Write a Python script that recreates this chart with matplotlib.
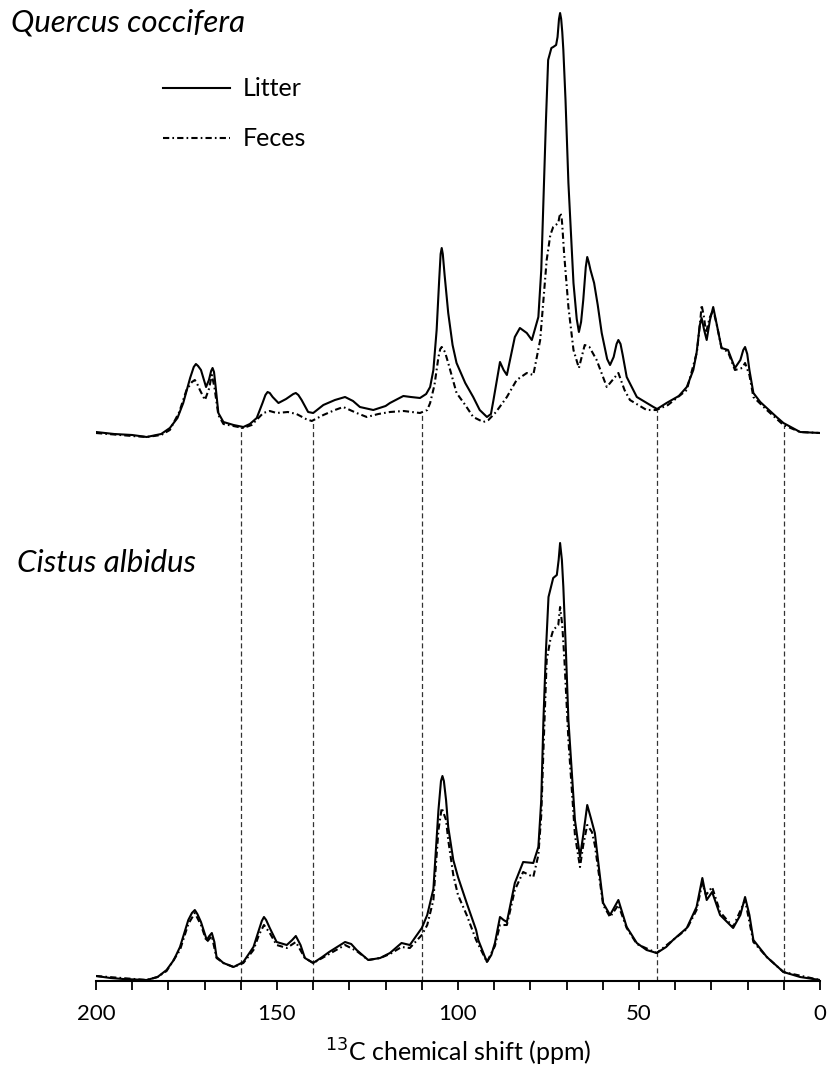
import matplotlib
matplotlib.use("Agg")
import matplotlib.pyplot as plt
from matplotlib.lines import Line2D
from matplotlib.ticker import MultipleLocator
import numpy as np

plt.rcParams['font.family'] = ['Lato', 'DejaVu Sans']

# ---- Quercus coccifera (upper spectrum), intensity above its own baseline ----
qc_litter_ppm = [200, 195, 190, 186, 182, 179.6, 177.5, 175.9, 174, 173, 172.4, 171.8, 171, 169.6, 168.8, 168.2,
                 167.8, 167.4, 167, 166.2, 164.8, 162, 159.3, 157.5, 155.6, 154, 153.2, 152.6, 152, 151.2, 149.6,
                 147.5, 145.5, 144.8, 144.1, 143.2, 141.4, 140, 137.2, 134, 131.2, 129, 127.1, 123.4, 120,
                 118.8, 115.1, 113, 110.5, 108.8, 107.7, 106.8, 105.9, 105.2, 104.8, 104.5, 104.2, 103.7,
                 102.7, 101.5, 100.4, 98, 95.8, 94, 92, 90.9, 90.2, 89, 88.4, 87.4, 86.5, 84.3, 82.9, 81, 79.6,
                 77.8, 77, 76.4, 75.7, 75.1, 74.2, 73.7, 72.9, 72.5, 72.1, 71.8, 71.5, 71.2, 70.9, 70.3, 69.5,
                 68.1, 67.2, 66.6, 66, 65.4, 64.7, 64.3, 63.9, 63.4, 62.4, 61.4, 60.3, 58.8, 58, 57, 56.2, 55.7,
                 55.1, 54.5, 53.4, 50.6, 46, 45, 42.4, 39, 36.8, 35, 34.1, 33.2, 32.7, 32, 31.3, 30.4, 29.5,
                 28.5, 27.2, 25.4, 23.5, 22, 21.2, 20.7, 20.1, 19.5, 18.4, 16.5, 14.7, 12, 10.1, 7, 5.5, 0]
qc_litter = [5, 3, 2, 0, 3, 9, 19, 34, 59, 70, 73, 71, 67, 50, 57, 66,
             69, 65, 52, 24, 15, 12, 10, 13, 19, 34, 42, 45, 44, 40, 34,
             38, 43, 44, 42, 37, 25, 24, 32, 37, 40, 36, 30, 27, 31,
             34, 41, 40, 39, 43, 50, 67, 107, 157, 183, 189, 183, 162,
             124, 92, 74, 54, 40, 27, 20, 23, 37, 62, 75, 67, 62, 100, 109, 104, 97,
             120, 167, 237, 317, 377, 389, 390, 392, 400, 418, 424, 418, 405, 387, 337, 254,
             154, 118, 105, 115, 137, 170, 180, 175, 167, 154, 132, 104, 78, 72, 80, 93, 97,
             93, 82, 60, 40, 30, 28, 34, 41, 50, 67, 84, 112, 119, 107, 97, 117, 130,
             112, 89, 87, 69, 77, 87, 90, 83, 67, 44, 35, 29, 20, 14, 8, 5, 4]

qc_feces_ppm = [200, 190, 186, 182, 179.6, 177, 175, 173.5, 172.7, 171.9, 171.3, 169.9, 168.8, 168, 167.3, 166.2,
                164.8, 159.3, 157, 153.8, 152, 150.1, 147, 144.6, 142, 140.4, 137.2, 134, 131.7, 128, 125.2,
                122, 118.8, 115, 110.5, 108.5, 107.7, 106.5, 105.4, 104.9, 104.5, 104.1, 103.6, 102.7, 100.4,
                98, 95.8, 93, 91.6, 89.5, 86.5, 83.8, 81, 79.2, 77.3, 76.4, 75.5, 74.5, 73.7, 72.3, 72, 71.7,
                71.4, 71.2, 70.7, 69.5, 68.1, 66.6, 65, 63.7, 61.7, 58.9, 55.7, 54, 52.5, 47.9, 45.2, 42, 36.8,
                34, 33, 32.7, 32, 31.5, 30.5, 29.5, 28.5, 27.2, 25.4, 23.5, 21.5, 20.7, 19.5, 18.4, 14.7, 10.1,
                5.5, 0]
qc_feces = [4, 1, 0, 2, 7, 25, 47, 55, 57, 52, 47, 37, 48, 62, 50, 22,
            13, 9, 12, 24, 26, 24, 25, 23, 18, 16, 22, 27, 30, 24, 20,
            23, 25, 26, 24, 27, 34, 52, 80, 88, 90, 88, 85, 74, 44,
            32, 20, 15, 17, 25, 40, 57, 64, 62, 97, 137, 177, 202, 210, 214, 220, 224,
            220, 212, 184, 130, 87, 69, 92, 90, 77, 50, 64, 47, 37, 27, 27, 32, 47,
            85, 119, 132, 119, 104, 119, 127, 112, 89, 85, 67, 69, 74, 62, 40, 27, 12,
            5, 4]

# ---- Cistus albidus (lower spectrum) ----
ca_litter_ppm = [200, 196, 192.5, 186, 183, 180.5, 178.5, 176.8, 174.5, 173.5, 172.7, 172, 171, 169.4, 168.7,
                 168, 167.3, 166.7, 164.8, 162, 159.3, 156.5, 155, 154.2, 153.6, 153, 152, 150.1, 147.3, 145.8,
                 144.8, 143.5, 142.3, 140, 137.5, 135.6, 131.2, 129.5, 128, 124.8, 121.5, 118.8, 115.6, 113.3,
                 110, 108.5, 106.8, 105.4, 104.7, 104.3, 103.9, 103.3, 102.7, 101.3, 100, 97.6, 95, 94.4, 92,
                 90.8, 89.8, 88.4, 87.4, 86.5, 84.3, 82, 79.2, 77.8, 77, 76.4, 75.7, 75, 73.7, 72.7, 72.2, 71.8,
                 71.3, 70.9, 70.2, 69.5, 67.7, 66.3, 65.4, 64.3, 63.3, 62.2, 61, 59.9, 58, 55.7, 53.4, 50.6, 47.9,
                 45.1, 42.5, 40.6, 36.8, 34.1, 32.5, 31.3, 29.8, 27.6, 24, 22, 20.7, 19.5, 18.4, 14.7, 10.1, 5.5, 0]
ca_litter = [5, 3, 2, 1, 4, 11, 21, 34, 61, 68, 71, 67, 59, 41, 45,
             48, 39, 24, 18, 14, 19, 34, 51, 60, 64, 61, 53, 39, 36, 41,
             45, 36, 23, 18, 24, 29, 39, 37, 31, 21, 23, 28, 38, 36,
             53, 66, 92, 171, 200, 205, 200, 181, 154, 121, 104, 78, 51, 41, 19,
             26, 38, 64, 61, 59, 98, 119, 118, 134, 181, 261, 331, 384, 403, 406, 421, 438,
             421, 394, 331, 261, 161, 124, 146, 176, 163, 148, 111, 78, 66, 81, 54, 38, 31,
             28, 34, 41, 53, 74, 103, 81, 89, 66, 53, 66, 84, 66, 41, 24, 9, 4, 1]

ca_feces_ppm = [200, 186, 183, 180.5, 176.8, 174.5, 172.7, 171, 169.4, 168, 166.7, 164.8, 162, 159.3, 156.5,
                155, 153.6, 152, 150.1, 147.3, 144.8, 142.3, 140, 137.5, 135.6, 131.2, 128, 124.8, 121.5,
                118.8, 115.6, 113.3, 110, 108.5, 106.8, 105.4, 104.5, 103.3, 102.7, 101.3, 100, 97.6, 95, 92,
                89.8, 88.4, 86.5, 84.3, 82, 79.2, 77.8, 77, 76.4, 75.5, 74.5, 73.7, 72.3, 71.8, 71.2, 70.6,
                69.5, 67.7, 66.3, 65.4, 64.3, 63, 62.2, 59.9, 58, 55.7, 53.4, 50.6, 45.1, 40.6, 36.8, 34.1,
                32.5, 31.5, 29.8, 27.6, 24, 20.7, 18.4, 14.7, 10.1, 0]
ca_feces = [5, 1, 4, 10, 31, 57, 68, 56, 39, 45, 23, 18, 14, 18, 31,
            46, 56, 48, 36, 33, 39, 23, 18, 23, 27, 36, 30, 21, 23,
            27, 34, 33, 46, 56, 81, 151, 173, 161, 141, 106, 86, 66, 41, 19,
            35, 56, 56, 91, 109, 104, 126, 166, 231, 321, 341, 351, 356, 374, 356, 321,
            241, 146, 114, 136, 156, 149, 136, 76, 64, 76, 53, 37, 28, 41, 52, 71,
            98, 86, 94, 69, 54, 81, 39, 24, 9, 1]

region_bounds = [160, 140, 110, 45, 10]
top_offset = 544

W, H = 829, 1081
fig = plt.figure(figsize=(W / 100, H / 100), dpi=100)
ax = fig.add_axes([96 / W, 100 / H, 724 / W, 981 / H])

feces_dash = (3, 1.5, 0.8, 1.5)

qc_l = np.array(qc_litter) + top_offset
qc_f = np.array(qc_feces) + top_offset
ax.plot(qc_litter_ppm, qc_l, color='black', lw=1.5, zorder=3)
ax.plot(qc_feces_ppm, qc_f, color='black', lw=1.5, dashes=feces_dash, zorder=3)
ax.plot(ca_litter_ppm, ca_litter, color='black', lw=1.5, zorder=3)
ax.plot(ca_feces_ppm, ca_feces, color='black', lw=1.5, dashes=feces_dash, zorder=3)

# dashed region boundaries, from the axis up to the upper spectrum
for b in region_bounds:
    top_l = np.interp(b, qc_litter_ppm[::-1], qc_l[::-1])
    top_f = np.interp(b, qc_feces_ppm[::-1], qc_f[::-1])
    ax.plot([b, b], [0, min(top_l, top_f)], color='#333333', lw=0.9,
            dashes=(4, 2.5), zorder=2)

ax.set_xlim(200, 0)
ax.set_ylim(0, 981)
for s in ['left', 'right', 'top']:
    ax.spines[s].set_visible(False)
ax.spines['bottom'].set_linewidth(1.5)
ax.set_yticks([])
ax.xaxis.set_major_locator(MultipleLocator(50))
ax.xaxis.set_minor_locator(MultipleLocator(10))
ax.tick_params(axis='x', which='both', direction='out', length=6.5, width=1.3)
ax.tick_params(axis='x', which='major', labelsize=16, pad=10)
ax.patch.set_alpha(0)


def fx(x):
    return x / W


def fy(y):
    return 1 - y / H


fig.text(fx(11), fy(22), 'Quercus coccifera', fontsize=22.5, style='italic', va='center', ha='left')
fig.text(fx(17), fy(563), 'Cistus albidus', fontsize=22.5, style='italic', va='center', ha='left')

fig.add_artist(Line2D([fx(163), fx(230)], [fy(88), fy(88)], color='black', lw=1.5))
fig.add_artist(Line2D([fx(163), fx(230)], [fy(138), fy(138)], color='black', lw=1.5, dashes=feces_dash))
fig.text(fx(243), fy(88), 'Litter', fontsize=18, va='center', ha='left')
fig.text(fx(243), fy(138), 'Feces', fontsize=18, va='center', ha='left')

fig.text(fx(458), fy(1052), r'$^{13}$C chemical shift (ppm)', fontsize=18, va='center', ha='center')

fig.savefig('out.png', dpi=100)
